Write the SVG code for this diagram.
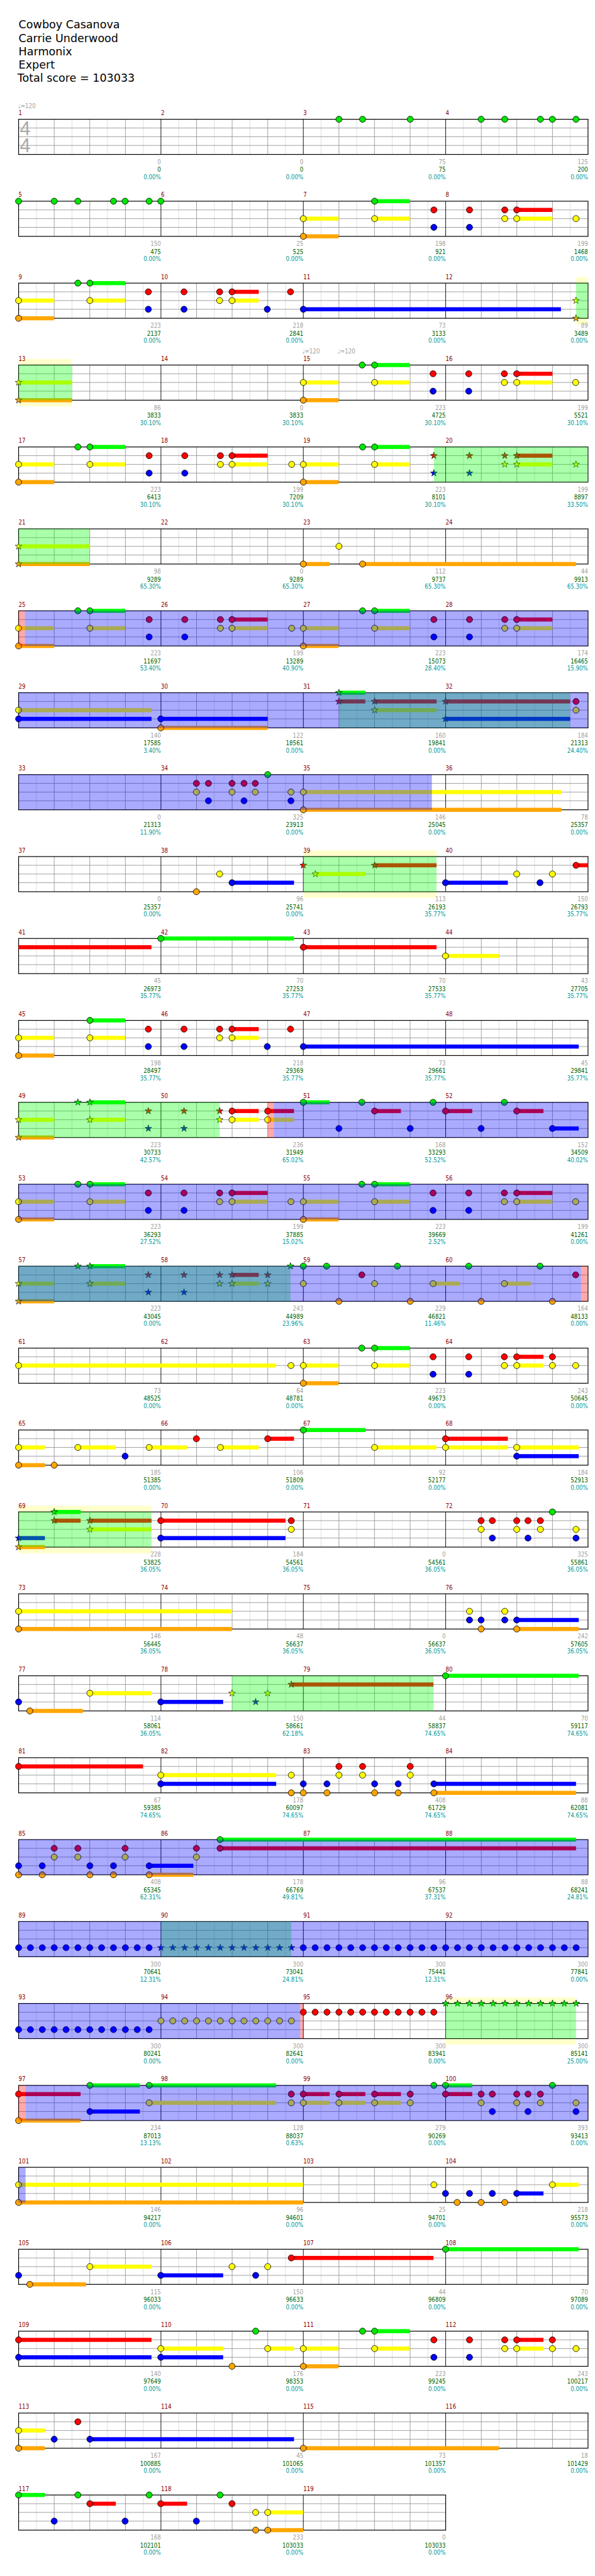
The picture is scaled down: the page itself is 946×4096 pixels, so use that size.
<svg xmlns="http://www.w3.org/2000/svg" width="946" height="4096" viewBox="0 0 946 4096">
<style>
.t{font-family:"DejaVu Sans",Verdana,sans-serif;font-size:19px;fill:#000}
.s{font-family:"DejaVu Sans Condensed","DejaVu Sans",sans-serif;font-stretch:condensed;font-size:10.5px}
.m{fill:#8b0000}.a{fill:#a0a0a0;text-anchor:end}.c{fill:#006400;text-anchor:end}.p{fill:#009999;text-anchor:end}.k{fill:#a0a0a0}
.ts{font-family:"Liberation Sans",Arial,sans-serif;font-size:33px;fill:#aaa}
.n circle{stroke:#000;stroke-width:.9}.n use{stroke:#000;stroke-width:.7}
.g{fill:#00e600}.gb{fill:#00ff00}.r{fill:#f00}.y{fill:#ff0}.b{fill:#00f}.o{fill:#ffa600}
.sp{fill:#0f0;fill-opacity:.333}.od{fill:#00f;fill-opacity:.333}.pk{fill:#f00;fill-opacity:.333}.pl{fill:#ffc}
</style>
<defs>
<path id="S" d="M0-6.2L1.39-1.92L5.9-1.92L2.25.73L3.64 5.02L0 2.37L-3.64 5.02L-2.25.73L-5.9-1.92L-1.39-1.92Z"/>
<g id="st4">
<rect x="32" width="980" height="60.5" fill="#fff"/>
<path stroke="#dcdcdc" d="M62.6 0V60.5M123.9 0V60.5M185.1 0V60.5M246.4 0V60.5M307.6 0V60.5M368.9 0V60.5M430.1 0V60.5M491.4 0V60.5M552.6 0V60.5M613.9 0V60.5M675.1 0V60.5M736.4 0V60.5M797.6 0V60.5M858.9 0V60.5M920.1 0V60.5M981.4 0V60.5"/>
<path stroke="#999" d="M93.3 0V60.5M154.5 0V60.5M215.8 0V60.5M338.3 0V60.5M399.5 0V60.5M460.8 0V60.5M583.3 0V60.5M644.5 0V60.5M705.8 0V60.5M828.3 0V60.5M889.5 0V60.5M950.8 0V60.5M32 15H1012M32 30H1012M32 45H1012"/>
<path stroke="#000" d="M277 0V60.5M522 0V60.5M767 0V60.5"/>
<rect x="32" width="980" height="60.5" fill="none" stroke="#000" stroke-width="1.3"/>
</g>
<g id="st3">
<rect x="32" width="735" height="60.5" fill="#fff"/>
<path stroke="#dcdcdc" d="M62.6 0V60.5M123.9 0V60.5M185.1 0V60.5M246.4 0V60.5M307.6 0V60.5M368.9 0V60.5M430.1 0V60.5M491.4 0V60.5M552.6 0V60.5M613.9 0V60.5M675.1 0V60.5M736.4 0V60.5"/>
<path stroke="#999" d="M93.3 0V60.5M154.5 0V60.5M215.8 0V60.5M338.3 0V60.5M399.5 0V60.5M460.8 0V60.5M583.3 0V60.5M644.5 0V60.5M705.8 0V60.5M32 15H767M32 30H767M32 45H767"/>
<path stroke="#000" d="M277 0V60.5M522 0V60.5"/>
<rect x="32" width="735" height="60.5" fill="none" stroke="#000" stroke-width="1.3"/>
</g>
</defs>
<rect width="946" height="4096" fill="#fff"/>
<g transform="scale(0.923828)">
<g id="title" class="t"><text x="32" y="49">Cowboy Casanova</text><text x="32" y="72">Carrie Underwood</text><text x="32" y="95">Harmonix</text><text x="32" y="118">Expert</text><text x="30" y="141">Total score = 103033</text></g>

<g id="m1-4" transform="translate(0,205.3)">
<use href="#st4"/>
<text class="s k" x="31" y="-19">♩=120</text>
<text class="ts" x="34" y="27">4</text><text class="ts" x="34" y="57">4</text>
<g class="s m" transform="translate(0,-7)"><text x="32">1</text><text x="277">2</text><text x="522">3</text><text x="767">4</text></g>
<g class="s a" transform="translate(0,77)"><text x="277">0</text><text x="522">0</text><text x="767">75</text><text x="1012">125</text></g>
<g class="s c" transform="translate(0,90.5)"><text x="277">0</text><text x="522">0</text><text x="767">75</text><text x="1012">200</text></g>
<g class="s p" transform="translate(0,103)"><text x="277">0.00%</text><text x="522">0.00%</text><text x="767">0.00%</text><text x="1012">0.00%</text></g>
<g class="n g"><circle cx="583.3" r="5.3"/><circle cx="624" r="5.3"/><circle cx="706" r="5.3"/><circle cx="828" r="5.3"/><circle cx="868.7" r="5.3"/><circle cx="930" r="5.3"/><circle cx="950.7" r="5.3"/><circle cx="991.3" r="5.3"/></g>
</g>

<g id="m5-8" transform="translate(0,346.3)">
<use href="#st4"/>
<g class="s m" transform="translate(0,-7)"><text x="32">5</text><text x="277">6</text><text x="522">7</text><text x="767">8</text></g>
<g class="s a" transform="translate(0,77)"><text x="277">150</text><text x="522">25</text><text x="767">198</text><text x="1012">199</text></g>
<g class="s c" transform="translate(0,90.5)"><text x="277">475</text><text x="522">525</text><text x="767">921</text><text x="1012">1468</text></g>
<g class="s p" transform="translate(0,103)"><text x="277">0.00%</text><text x="522">0.00%</text><text x="767">0.00%</text><text x="1012">0.00%</text></g>
<g class="n g"><rect class="gb" x="644.7" y="-3.5" width="60.6" height="7"/><circle cx="32" r="5.3"/><circle cx="93.3" r="5.3"/><circle cx="134" r="5.3"/><circle cx="195.3" r="5.3"/><circle cx="215.3" r="5.3"/><circle cx="256.7" r="5.3"/><circle cx="276.7" r="5.3"/><circle cx="644.7" r="5.3"/></g>
<g class="n r" transform="translate(0,15)"><rect x="889.3" y="-3.5" width="61.4" height="7"/><circle cx="746.7" r="5.3"/><circle cx="808" r="5.3"/><circle cx="868.7" r="5.3"/><circle cx="889.3" r="5.3"/></g>
<g class="n y" transform="translate(0,30)"><rect x="522" y="-3.5" width="60.7" height="7"/><rect x="644.7" y="-3.5" width="60.6" height="7"/><rect x="889.3" y="-3.5" width="61.4" height="7"/><circle cx="522" r="5.3"/><circle cx="644.7" r="5.3"/><circle cx="868.7" r="5.3"/><circle cx="889.3" r="5.3"/><circle cx="991.3" r="5.3"/></g>
<g class="n b" transform="translate(0,45)"><circle cx="746.7" r="5.3"/><circle cx="808" r="5.3"/></g>
<g class="n o" transform="translate(0,60.5)"><rect x="522" y="-3.5" width="60.7" height="7"/><circle cx="522" r="5.3"/></g>
</g>

<g id="m9-12" transform="translate(0,487.3)">
<rect class="pl" x="991.3" y="-10.6" width="20.7" height="81.7"/>
<use href="#st4"/>
<g class="s m" transform="translate(0,-7)"><text x="32">9</text><text x="277">10</text><text x="522">11</text><text x="767">12</text></g>
<g class="s a" transform="translate(0,77)"><text x="277">223</text><text x="522">218</text><text x="767">73</text><text x="1012">89</text></g>
<g class="s c" transform="translate(0,90.5)"><text x="277">2137</text><text x="522">2841</text><text x="767">3133</text><text x="1012">3489</text></g>
<g class="s p" transform="translate(0,103)"><text x="277">0.00%</text><text x="522">0.00%</text><text x="767">0.00%</text><text x="1012">0.00%</text></g>
<g class="n g"><rect class="gb" x="154.7" y="-3.5" width="60.6" height="7"/><circle cx="134" r="5.3"/><circle cx="154.7" r="5.3"/></g>
<g class="n r" transform="translate(0,15)"><rect x="399.3" y="-3.5" width="46" height="7"/><circle cx="255.3" r="5.3"/><circle cx="316.7" r="5.3"/><circle cx="378" r="5.3"/><circle cx="399.3" r="5.3"/><circle cx="500" r="5.3"/></g>
<g class="n y" transform="translate(0,30)"><rect x="32" y="-3.5" width="61.3" height="7"/><rect x="154.7" y="-3.5" width="60.6" height="7"/><rect x="399.3" y="-3.5" width="46" height="7"/><circle cx="32" r="5.3"/><circle cx="154.7" r="5.3"/><circle cx="378" r="5.3"/><circle cx="399.3" r="5.3"/><use href="#S" x="991.3"/></g>
<g class="n b" transform="translate(0,45)"><rect x="522" y="-3.5" width="443.3" height="7"/><circle cx="255.3" r="5.3"/><circle cx="316.7" r="5.3"/><circle cx="460" r="5.3"/><circle cx="522" r="5.3"/></g>
<g class="n o" transform="translate(0,60.5)"><rect x="32" y="-3.5" width="61.3" height="7"/><circle cx="32" r="5.3"/><use href="#S" x="991.3"/></g>
<rect class="sp" x="991.3" width="20.7" height="60.5"/>
</g>

<g id="m13-16" transform="translate(0,628.3)">
<rect class="pl" x="32" y="-10.6" width="92" height="81.7"/>
<use href="#st4"/>
<text class="s k" x="520" y="-20">♩=120</text><text class="s k" x="581" y="-20">♩=120</text>
<g class="s m" transform="translate(0,-7)"><text x="32">13</text><text x="277">14</text><text x="522">15</text><text x="767">16</text></g>
<g class="s a" transform="translate(0,77)"><text x="277">86</text><text x="522">0</text><text x="767">223</text><text x="1012">199</text></g>
<g class="s c" transform="translate(0,90.5)"><text x="277">3833</text><text x="522">3833</text><text x="767">4725</text><text x="1012">5521</text></g>
<g class="s p" transform="translate(0,103)"><text x="277">30.10%</text><text x="522">30.10%</text><text x="767">30.10%</text><text x="1012">30.10%</text></g>
<g class="n g"><rect class="gb" x="644.7" y="-3.5" width="60.6" height="7"/><circle cx="623.3" r="5.3"/><circle cx="644.7" r="5.3"/></g>
<g class="n r" transform="translate(0,15)"><rect x="889.3" y="-3.5" width="61.4" height="7"/><circle cx="745.3" r="5.3"/><circle cx="806.7" r="5.3"/><circle cx="868" r="5.3"/><circle cx="889.3" r="5.3"/></g>
<g class="n y" transform="translate(0,30)"><rect x="32" y="-3.5" width="92" height="7"/><rect x="522" y="-3.5" width="60.7" height="7"/><rect x="644.7" y="-3.5" width="60.6" height="7"/><rect x="889.3" y="-3.5" width="61.4" height="7"/><use href="#S" x="32"/><circle cx="522" r="5.3"/><circle cx="644.7" r="5.3"/><circle cx="868" r="5.3"/><circle cx="889.3" r="5.3"/><circle cx="990.7" r="5.3"/></g>
<g class="n b" transform="translate(0,45)"><circle cx="745.3" r="5.3"/><circle cx="806.7" r="5.3"/></g>
<g class="n o" transform="translate(0,60.5)"><rect x="32" y="-3.5" width="92" height="7"/><rect x="522" y="-3.5" width="60.7" height="7"/><use href="#S" x="32"/><circle cx="522" r="5.3"/></g>
<rect class="sp" x="32" width="92" height="60.5"/>
</g>

<g id="m17-20" transform="translate(0,769.3)">
<use href="#st4"/>
<g class="s m" transform="translate(0,-7)"><text x="32">17</text><text x="277">18</text><text x="522">19</text><text x="767">20</text></g>
<g class="s a" transform="translate(0,77)"><text x="277">223</text><text x="522">199</text><text x="767">223</text><text x="1012">199</text></g>
<g class="s c" transform="translate(0,90.5)"><text x="277">6413</text><text x="522">7209</text><text x="767">8101</text><text x="1012">8897</text></g>
<g class="s p" transform="translate(0,103)"><text x="277">30.10%</text><text x="522">30.10%</text><text x="767">30.10%</text><text x="1012">33.50%</text></g>
<g class="n g"><rect class="gb" x="154.7" y="-3.5" width="60.6" height="7"/><rect class="gb" x="644.7" y="-3.5" width="60.6" height="7"/><circle cx="134" r="5.3"/><circle cx="154.7" r="5.3"/><circle cx="624" r="5.3"/><circle cx="644.7" r="5.3"/></g>
<g class="n r" transform="translate(0,15)"><rect x="399.3" y="-3.5" width="61.4" height="7"/><rect x="889.3" y="-3.5" width="61.4" height="7"/><circle cx="256.7" r="5.3"/><circle cx="318" r="5.3"/><circle cx="379.3" r="5.3"/><circle cx="399.3" r="5.3"/><use href="#S" x="746.7"/><use href="#S" x="808"/><use href="#S" x="868.7"/><use href="#S" x="889.3"/></g>
<g class="n y" transform="translate(0,30)"><rect x="32" y="-3.5" width="61.3" height="7"/><rect x="154.7" y="-3.5" width="60.6" height="7"/><rect x="399.3" y="-3.5" width="61.4" height="7"/><rect x="522" y="-3.5" width="60.7" height="7"/><rect x="644.7" y="-3.5" width="60.6" height="7"/><rect x="889.3" y="-3.5" width="61.4" height="7"/><circle cx="32" r="5.3"/><circle cx="154.7" r="5.3"/><circle cx="379.3" r="5.3"/><circle cx="399.3" r="5.3"/><circle cx="502" r="5.3"/><circle cx="522" r="5.3"/><circle cx="644.7" r="5.3"/><use href="#S" x="868.7"/><use href="#S" x="889.3"/><use href="#S" x="991.3"/></g>
<g class="n b" transform="translate(0,45)"><circle cx="256.7" r="5.3"/><circle cx="318" r="5.3"/><use href="#S" x="746.7"/><use href="#S" x="808"/></g>
<g class="n o" transform="translate(0,60.5)"><rect x="32" y="-3.5" width="61.3" height="7"/><rect x="522" y="-3.5" width="60.7" height="7"/><circle cx="32" r="5.3"/><circle cx="522" r="5.3"/></g>
<rect class="sp" x="746.7" width="265.3" height="60.5"/>
</g>

<g id="m21-24" transform="translate(0,910.3)">
<use href="#st4"/>
<g class="s m" transform="translate(0,-7)"><text x="32">21</text><text x="277">22</text><text x="522">23</text><text x="767">24</text></g>
<g class="s a" transform="translate(0,77)"><text x="277">98</text><text x="522">0</text><text x="767">112</text><text x="1012">44</text></g>
<g class="s c" transform="translate(0,90.5)"><text x="277">9289</text><text x="522">9289</text><text x="767">9737</text><text x="1012">9913</text></g>
<g class="s p" transform="translate(0,103)"><text x="277">65.30%</text><text x="522">65.30%</text><text x="767">65.30%</text><text x="1012">65.30%</text></g>
<g class="n y" transform="translate(0,30)"><rect x="32" y="-3.5" width="122.7" height="7"/><use href="#S" x="32"/><circle cx="583.3" r="5.3"/></g>
<g class="n o" transform="translate(0,60.5)"><rect x="32" y="-3.5" width="122.7" height="7"/><rect x="522" y="-3.5" width="45.3" height="7"/><rect x="624" y="-3.5" width="367.3" height="7"/><use href="#S" x="32"/><circle cx="522" r="5.3"/><circle cx="624" r="5.3"/></g>
<rect class="sp" x="32" width="122.7" height="60.5"/>
</g>

<g id="m25-28" transform="translate(0,1051.3)">
<use href="#st4"/>
<g class="s m" transform="translate(0,-7)"><text x="32">25</text><text x="277">26</text><text x="522">27</text><text x="767">28</text></g>
<g class="s a" transform="translate(0,77)"><text x="277">223</text><text x="522">199</text><text x="767">223</text><text x="1012">174</text></g>
<g class="s c" transform="translate(0,90.5)"><text x="277">11697</text><text x="522">13289</text><text x="767">15073</text><text x="1012">16465</text></g>
<g class="s p" transform="translate(0,103)"><text x="277">53.40%</text><text x="522">40.90%</text><text x="767">28.40%</text><text x="1012">15.90%</text></g>
<g class="n g"><rect class="gb" x="154.7" y="-3.5" width="60.6" height="7"/><rect class="gb" x="644.7" y="-3.5" width="60.6" height="7"/><circle cx="134" r="5.3"/><circle cx="154.7" r="5.3"/><circle cx="624" r="5.3"/><circle cx="644.7" r="5.3"/></g>
<g class="n r" transform="translate(0,15)"><rect x="399.3" y="-3.5" width="61.4" height="7"/><rect x="889.3" y="-3.5" width="61.4" height="7"/><circle cx="256.7" r="5.3"/><circle cx="318" r="5.3"/><circle cx="379.3" r="5.3"/><circle cx="399.3" r="5.3"/><circle cx="746.7" r="5.3"/><circle cx="808" r="5.3"/><circle cx="868.7" r="5.3"/><circle cx="889.3" r="5.3"/></g>
<g class="n y" transform="translate(0,30)"><rect x="32" y="-3.5" width="61.3" height="7"/><rect x="154.7" y="-3.5" width="60.6" height="7"/><rect x="399.3" y="-3.5" width="61.4" height="7"/><rect x="522" y="-3.5" width="60.7" height="7"/><rect x="644.7" y="-3.5" width="60.6" height="7"/><rect x="889.3" y="-3.5" width="61.4" height="7"/><circle cx="32" r="5.3"/><circle cx="154.7" r="5.3"/><circle cx="379.3" r="5.3"/><circle cx="399.3" r="5.3"/><circle cx="502" r="5.3"/><circle cx="522" r="5.3"/><circle cx="644.7" r="5.3"/><circle cx="868.7" r="5.3"/><circle cx="889.3" r="5.3"/></g>
<g class="n b" transform="translate(0,45)"><circle cx="256.7" r="5.3"/><circle cx="318" r="5.3"/><circle cx="746.7" r="5.3"/><circle cx="808" r="5.3"/></g>
<g class="n o" transform="translate(0,60.5)"><rect x="32" y="-3.5" width="61.3" height="7"/><rect x="522" y="-3.5" width="60.7" height="7"/><circle cx="32" r="5.3"/><circle cx="522" r="5.3"/></g>
<rect class="pk" x="32" width="10.7" height="60.5"/><rect class="od" x="42.7" width="969.3" height="60.5"/>
</g>

<g id="m29-32" transform="translate(0,1192.3)">
<use href="#st4"/>
<g class="s m" transform="translate(0,-7)"><text x="32">29</text><text x="277">30</text><text x="522">31</text><text x="767">32</text></g>
<g class="s a" transform="translate(0,77)"><text x="277">140</text><text x="522">122</text><text x="767">160</text><text x="1012">184</text></g>
<g class="s c" transform="translate(0,90.5)"><text x="277">17585</text><text x="522">18561</text><text x="767">19841</text><text x="1012">21313</text></g>
<g class="s p" transform="translate(0,103)"><text x="277">3.40%</text><text x="522">0.00%</text><text x="767">0.00%</text><text x="1012">24.40%</text></g>
<g class="n g"><rect class="gb" x="583.3" y="-3.5" width="45.4" height="7"/><use href="#S" x="583.3"/></g>
<g class="n r" transform="translate(0,15)"><rect x="583.3" y="-3.5" width="45.4" height="7"/><rect x="644.7" y="-3.5" width="106.6" height="7"/><rect x="766.7" y="-3.5" width="214.6" height="7"/><use href="#S" x="583.3"/><use href="#S" x="644.7"/><use href="#S" x="766.7"/><circle cx="991.3" r="5.3"/></g>
<g class="n y" transform="translate(0,30)"><rect x="32" y="-3.5" width="228.7" height="7"/><rect x="644.7" y="-3.5" width="106.6" height="7"/><circle cx="32" r="5.3"/><use href="#S" x="644.7"/><circle cx="991.3" r="5.3"/></g>
<g class="n b" transform="translate(0,45)"><rect x="32" y="-3.5" width="228.7" height="7"/><rect x="276.7" y="-3.5" width="184" height="7"/><rect x="766.7" y="-3.5" width="214.6" height="7"/><circle cx="32" r="5.3"/><circle cx="276.7" r="5.3"/><use href="#S" x="766.7"/></g>
<g class="n o" transform="translate(0,60.5)"><rect x="276.7" y="-3.5" width="184" height="7"/><circle cx="276.7" r="5.3"/></g>
<rect class="sp" x="583.3" width="398" height="60.5"/><rect class="od" x="32" width="980" height="60.5"/>
</g>

<g id="m33-36" transform="translate(0,1333.3)">
<use href="#st4"/>
<g class="s m" transform="translate(0,-7)"><text x="32">33</text><text x="277">34</text><text x="522">35</text><text x="767">36</text></g>
<g class="s a" transform="translate(0,77)"><text x="277">0</text><text x="522">325</text><text x="767">146</text><text x="1012">78</text></g>
<g class="s c" transform="translate(0,90.5)"><text x="277">21313</text><text x="522">23913</text><text x="767">25045</text><text x="1012">25357</text></g>
<g class="s p" transform="translate(0,103)"><text x="277">11.90%</text><text x="522">0.00%</text><text x="767">0.00%</text><text x="1012">0.00%</text></g>
<g class="n g"><circle cx="460.7" r="5.3"/></g>
<g class="n r" transform="translate(0,15)"><circle cx="338" r="5.3"/><circle cx="358.7" r="5.3"/><circle cx="399.3" r="5.3"/><circle cx="420" r="5.3"/><circle cx="439.3" r="5.3"/></g>
<g class="n y" transform="translate(0,30)"><rect x="522" y="-3.5" width="444" height="7"/><circle cx="338" r="5.3"/><circle cx="399.3" r="5.3"/><circle cx="439.3" r="5.3"/><circle cx="500.7" r="5.3"/><circle cx="522" r="5.3"/></g>
<g class="n b" transform="translate(0,45)"><circle cx="358.7" r="5.3"/><circle cx="420" r="5.3"/><circle cx="500.7" r="5.3"/></g>
<g class="n o" transform="translate(0,60.5)"><rect x="522" y="-3.5" width="444" height="7"/><circle cx="522" r="5.3"/></g>
<rect class="od" x="32" width="711.3" height="60.5"/>
</g>

<g id="m37-40" transform="translate(0,1474.3)">
<rect class="pl" x="522" y="-10.6" width="229.3" height="81.7"/>
<use href="#st4"/>
<g class="s m" transform="translate(0,-7)"><text x="32">37</text><text x="277">38</text><text x="522">39</text><text x="767">40</text></g>
<g class="s a" transform="translate(0,77)"><text x="277">0</text><text x="522">96</text><text x="767">113</text><text x="1012">150</text></g>
<g class="s c" transform="translate(0,90.5)"><text x="277">25357</text><text x="522">25741</text><text x="767">26193</text><text x="1012">26793</text></g>
<g class="s p" transform="translate(0,103)"><text x="277">0.00%</text><text x="522">0.00%</text><text x="767">35.77%</text><text x="1012">35.77%</text></g>
<g class="n r" transform="translate(0,15)"><rect x="644.7" y="-3.5" width="106.6" height="7"/><rect x="991.3" y="-3.5" width="20.7" height="7"/><use href="#S" x="522"/><use href="#S" x="644.7"/><circle cx="991.3" r="5.3"/></g>
<g class="n y" transform="translate(0,30)"><rect x="542.7" y="-3.5" width="86" height="7"/><circle cx="378" r="5.3"/><use href="#S" x="542.7"/><circle cx="889.3" r="5.3"/><circle cx="950.7" r="5.3"/></g>
<g class="n b" transform="translate(0,45)"><rect x="399.3" y="-3.5" width="106.7" height="7"/><rect x="766.7" y="-3.5" width="107.3" height="7"/><circle cx="399.3" r="5.3"/><circle cx="766.7" r="5.3"/><circle cx="929.3" r="5.3"/></g>
<g class="n o" transform="translate(0,60.5)"><circle cx="338" r="5.3"/></g>
<rect class="sp" x="522" width="229.3" height="60.5"/>
</g>

<g id="m41-44" transform="translate(0,1615.3)">
<use href="#st4"/>
<g class="s m" transform="translate(0,-7)"><text x="32">41</text><text x="277">42</text><text x="522">43</text><text x="767">44</text></g>
<g class="s a" transform="translate(0,77)"><text x="277">45</text><text x="522">70</text><text x="767">70</text><text x="1012">43</text></g>
<g class="s c" transform="translate(0,90.5)"><text x="277">26973</text><text x="522">27253</text><text x="767">27533</text><text x="1012">27705</text></g>
<g class="s p" transform="translate(0,103)"><text x="277">35.77%</text><text x="522">35.77%</text><text x="767">35.77%</text><text x="1012">35.77%</text></g>
<g class="n g"><rect class="gb" x="276.7" y="-3.5" width="229.3" height="7"/><circle cx="276.7" r="5.3"/></g>
<g class="n r" transform="translate(0,15)"><rect x="32" y="-3.5" width="228.7" height="7"/><rect x="522" y="-3.5" width="229.3" height="7"/><circle cx="522" r="5.3"/></g>
<g class="n y" transform="translate(0,30)"><rect x="766.7" y="-3.5" width="92" height="7"/><circle cx="766.7" r="5.3"/></g>
</g>

<g id="m45-48" transform="translate(0,1756.3)">
<use href="#st4"/>
<g class="s m" transform="translate(0,-7)"><text x="32">45</text><text x="277">46</text><text x="522">47</text><text x="767">48</text></g>
<g class="s a" transform="translate(0,77)"><text x="277">198</text><text x="522">218</text><text x="767">73</text><text x="1012">45</text></g>
<g class="s c" transform="translate(0,90.5)"><text x="277">28497</text><text x="522">29369</text><text x="767">29661</text><text x="1012">29841</text></g>
<g class="s p" transform="translate(0,103)"><text x="277">35.77%</text><text x="522">35.77%</text><text x="767">35.77%</text><text x="1012">35.77%</text></g>
<g class="n g"><rect class="gb" x="154.7" y="-3.5" width="60.6" height="7"/><circle cx="154.7" r="5.3"/></g>
<g class="n r" transform="translate(0,15)"><rect x="399.3" y="-3.5" width="46" height="7"/><circle cx="255.3" r="5.3"/><circle cx="316.7" r="5.3"/><circle cx="378" r="5.3"/><circle cx="399.3" r="5.3"/><circle cx="500" r="5.3"/></g>
<g class="n y" transform="translate(0,30)"><rect x="32" y="-3.5" width="61.3" height="7"/><rect x="154.7" y="-3.5" width="60.6" height="7"/><rect x="399.3" y="-3.5" width="46" height="7"/><circle cx="32" r="5.3"/><circle cx="154.7" r="5.3"/><circle cx="378" r="5.3"/><circle cx="399.3" r="5.3"/></g>
<g class="n b" transform="translate(0,45)"><rect x="522" y="-3.5" width="474" height="7"/><circle cx="255.3" r="5.3"/><circle cx="316.7" r="5.3"/><circle cx="460" r="5.3"/><circle cx="522" r="5.3"/></g>
<g class="n o" transform="translate(0,60.5)"><rect x="32" y="-3.5" width="61.3" height="7"/><circle cx="32" r="5.3"/></g>
</g>

<g id="m49-52" transform="translate(0,1897.3)">
<use href="#st4"/>
<g class="s m" transform="translate(0,-7)"><text x="32">49</text><text x="277">50</text><text x="522">51</text><text x="767">52</text></g>
<g class="s a" transform="translate(0,77)"><text x="277">223</text><text x="522">236</text><text x="767">168</text><text x="1012">152</text></g>
<g class="s c" transform="translate(0,90.5)"><text x="277">30733</text><text x="522">31949</text><text x="767">33293</text><text x="1012">34509</text></g>
<g class="s p" transform="translate(0,103)"><text x="277">42.57%</text><text x="522">65.02%</text><text x="767">52.52%</text><text x="1012">40.02%</text></g>
<g class="n g"><rect class="gb" x="154.7" y="-3.5" width="60.6" height="7"/><rect class="gb" x="522" y="-3.5" width="45.3" height="7"/><use href="#S" x="134"/><use href="#S" x="154.7"/><circle cx="522" r="5.3"/><circle cx="622.7" r="5.3"/><circle cx="745.3" r="5.3"/><circle cx="868" r="5.3"/></g>
<g class="n r" transform="translate(0,15)"><rect x="399.3" y="-3.5" width="46" height="7"/><rect x="460.7" y="-3.5" width="45.3" height="7"/><rect x="644.7" y="-3.5" width="45.3" height="7"/><rect x="766.7" y="-3.5" width="46" height="7"/><rect x="889.3" y="-3.5" width="46" height="7"/><use href="#S" x="255.3"/><use href="#S" x="316.7"/><use href="#S" x="378"/><circle cx="399.3" r="5.3"/><circle cx="460.7" r="5.3"/><circle cx="644.7" r="5.3"/><circle cx="766.7" r="5.3"/><circle cx="889.3" r="5.3"/></g>
<g class="n y" transform="translate(0,30)"><rect x="32" y="-3.5" width="61.3" height="7"/><rect x="154.7" y="-3.5" width="60.6" height="7"/><rect x="399.3" y="-3.5" width="46" height="7"/><rect x="460.7" y="-3.5" width="45.3" height="7"/><use href="#S" x="32"/><use href="#S" x="154.7"/><use href="#S" x="378"/><circle cx="399.3" r="5.3"/><circle cx="460.7" r="5.3"/></g>
<g class="n b" transform="translate(0,45)"><rect x="950.7" y="-3.5" width="45.3" height="7"/><use href="#S" x="255.3"/><use href="#S" x="316.7"/><circle cx="583.3" r="5.3"/><circle cx="706" r="5.3"/><circle cx="828" r="5.3"/><circle cx="950.7" r="5.3"/></g>
<g class="n o" transform="translate(0,60.5)"><rect x="32" y="-3.5" width="61.3" height="7"/><use href="#S" x="32"/></g>
<rect class="sp" x="32" width="346" height="60.5"/><rect class="pk" x="460.7" width="10.6" height="60.5"/><rect class="od" x="471.3" width="540.7" height="60.5"/>
</g>

<g id="m53-56" transform="translate(0,2038.3)">
<use href="#st4"/>
<g class="s m" transform="translate(0,-7)"><text x="32">53</text><text x="277">54</text><text x="522">55</text><text x="767">56</text></g>
<g class="s a" transform="translate(0,77)"><text x="277">223</text><text x="522">199</text><text x="767">223</text><text x="1012">199</text></g>
<g class="s c" transform="translate(0,90.5)"><text x="277">36293</text><text x="522">37885</text><text x="767">39669</text><text x="1012">41261</text></g>
<g class="s p" transform="translate(0,103)"><text x="277">27.52%</text><text x="522">15.02%</text><text x="767">2.52%</text><text x="1012">0.00%</text></g>
<g class="n g"><rect class="gb" x="154.7" y="-3.5" width="60.6" height="7"/><rect class="gb" x="644.7" y="-3.5" width="60.6" height="7"/><circle cx="134" r="5.3"/><circle cx="154.7" r="5.3"/><circle cx="622.7" r="5.3"/><circle cx="644.7" r="5.3"/></g>
<g class="n r" transform="translate(0,15)"><rect x="399.3" y="-3.5" width="61.4" height="7"/><rect x="889.3" y="-3.5" width="61.4" height="7"/><circle cx="255.3" r="5.3"/><circle cx="316.7" r="5.3"/><circle cx="378" r="5.3"/><circle cx="399.3" r="5.3"/><circle cx="745.3" r="5.3"/><circle cx="806.7" r="5.3"/><circle cx="868" r="5.3"/><circle cx="889.3" r="5.3"/></g>
<g class="n y" transform="translate(0,30)"><rect x="32" y="-3.5" width="61.3" height="7"/><rect x="154.7" y="-3.5" width="60.6" height="7"/><rect x="399.3" y="-3.5" width="61.4" height="7"/><rect x="522" y="-3.5" width="60.7" height="7"/><rect x="644.7" y="-3.5" width="60.6" height="7"/><rect x="889.3" y="-3.5" width="61.4" height="7"/><circle cx="32" r="5.3"/><circle cx="154.7" r="5.3"/><circle cx="378" r="5.3"/><circle cx="399.3" r="5.3"/><circle cx="500.7" r="5.3"/><circle cx="522" r="5.3"/><circle cx="644.7" r="5.3"/><circle cx="868" r="5.3"/><circle cx="889.3" r="5.3"/><circle cx="990.7" r="5.3"/></g>
<g class="n b" transform="translate(0,45)"><circle cx="255.3" r="5.3"/><circle cx="316.7" r="5.3"/><circle cx="745.3" r="5.3"/><circle cx="806.7" r="5.3"/></g>
<g class="n o" transform="translate(0,60.5)"><rect x="32" y="-3.5" width="61.3" height="7"/><rect x="522" y="-3.5" width="60.7" height="7"/><circle cx="32" r="5.3"/><circle cx="522" r="5.3"/></g>
<rect class="od" x="32" width="980" height="60.5"/>
</g>

<g id="m57-60" transform="translate(0,2179.3)">
<use href="#st4"/>
<g class="s m" transform="translate(0,-7)"><text x="32">57</text><text x="277">58</text><text x="522">59</text><text x="767">60</text></g>
<g class="s a" transform="translate(0,77)"><text x="277">223</text><text x="522">243</text><text x="767">229</text><text x="1012">164</text></g>
<g class="s c" transform="translate(0,90.5)"><text x="277">43045</text><text x="522">44989</text><text x="767">46821</text><text x="1012">48133</text></g>
<g class="s p" transform="translate(0,103)"><text x="277">0.00%</text><text x="522">23.96%</text><text x="767">11.46%</text><text x="1012">0.00%</text></g>
<g class="n g"><rect class="gb" x="154.7" y="-3.5" width="60.6" height="7"/><use href="#S" x="134"/><use href="#S" x="154.7"/><use href="#S" x="500"/><circle cx="522" r="5.3"/><circle cx="562" r="5.3"/><circle cx="684" r="5.3"/><circle cx="806.7" r="5.3"/><circle cx="929.3" r="5.3"/></g>
<g class="n r" transform="translate(0,15)"><rect x="399.3" y="-3.5" width="46" height="7"/><use href="#S" x="255.3"/><use href="#S" x="316.7"/><use href="#S" x="378"/><use href="#S" x="399.3"/><use href="#S" x="460.7"/><circle cx="622.7" r="5.3"/><circle cx="990.7" r="5.3"/></g>
<g class="n y" transform="translate(0,30)"><rect x="32" y="-3.5" width="61.3" height="7"/><rect x="154.7" y="-3.5" width="60.6" height="7"/><rect x="399.3" y="-3.5" width="46" height="7"/><rect x="745.3" y="-3.5" width="46" height="7"/><rect x="868" y="-3.5" width="45.3" height="7"/><use href="#S" x="32"/><use href="#S" x="154.7"/><use href="#S" x="378"/><use href="#S" x="399.3"/><use href="#S" x="460.7"/><circle cx="522" r="5.3"/><circle cx="644.7" r="5.3"/><circle cx="745.3" r="5.3"/><circle cx="868" r="5.3"/></g>
<g class="n b" transform="translate(0,45)"><use href="#S" x="255.3"/><use href="#S" x="316.7"/></g>
<g class="n o" transform="translate(0,60.5)"><rect x="32" y="-3.5" width="61.3" height="7"/><use href="#S" x="32"/><circle cx="583.3" r="5.3"/><circle cx="706" r="5.3"/><circle cx="828" r="5.3"/><circle cx="950.7" r="5.3"/></g>
<rect class="sp" x="32" width="468" height="60.5"/><rect class="od" x="32" width="968" height="60.5"/><rect class="pk" x="1000" width="12" height="60.5"/>
</g>

<g id="m61-64" transform="translate(0,2320.3)">
<use href="#st4"/>
<g class="s m" transform="translate(0,-7)"><text x="32">61</text><text x="277">62</text><text x="522">63</text><text x="767">64</text></g>
<g class="s a" transform="translate(0,77)"><text x="277">73</text><text x="522">64</text><text x="767">223</text><text x="1012">243</text></g>
<g class="s c" transform="translate(0,90.5)"><text x="277">48525</text><text x="522">48781</text><text x="767">49673</text><text x="1012">50645</text></g>
<g class="s p" transform="translate(0,103)"><text x="277">0.00%</text><text x="522">0.00%</text><text x="767">0.00%</text><text x="1012">0.00%</text></g>
<g class="n g"><rect class="gb" x="644.7" y="-3.5" width="60.6" height="7"/><circle cx="622.7" r="5.3"/><circle cx="644.7" r="5.3"/></g>
<g class="n r" transform="translate(0,15)"><rect x="889.3" y="-3.5" width="46" height="7"/><circle cx="745.3" r="5.3"/><circle cx="806.7" r="5.3"/><circle cx="868" r="5.3"/><circle cx="889.3" r="5.3"/><circle cx="950.7" r="5.3"/></g>
<g class="n y" transform="translate(0,30)"><rect x="32" y="-3.5" width="443.3" height="7"/><rect x="522" y="-3.5" width="60.7" height="7"/><rect x="644.7" y="-3.5" width="60.6" height="7"/><rect x="889.3" y="-3.5" width="46" height="7"/><circle cx="32" r="5.3"/><circle cx="500.7" r="5.3"/><circle cx="522" r="5.3"/><circle cx="644.7" r="5.3"/><circle cx="868" r="5.3"/><circle cx="889.3" r="5.3"/><circle cx="950.7" r="5.3"/><circle cx="990.7" r="5.3"/></g>
<g class="n b" transform="translate(0,45)"><circle cx="745.3" r="5.3"/><circle cx="806.7" r="5.3"/></g>
<g class="n o" transform="translate(0,60.5)"><rect x="522" y="-3.5" width="60.7" height="7"/><circle cx="522" r="5.3"/></g>
</g>

<g id="m65-68" transform="translate(0,2461.3)">
<use href="#st4"/>
<g class="s m" transform="translate(0,-7)"><text x="32">65</text><text x="277">66</text><text x="522">67</text><text x="767">68</text></g>
<g class="s a" transform="translate(0,77)"><text x="277">185</text><text x="522">106</text><text x="767">92</text><text x="1012">184</text></g>
<g class="s c" transform="translate(0,90.5)"><text x="277">51385</text><text x="522">51809</text><text x="767">52177</text><text x="1012">52913</text></g>
<g class="s p" transform="translate(0,103)"><text x="277">0.00%</text><text x="522">0.00%</text><text x="767">0.00%</text><text x="1012">0.00%</text></g>
<g class="n g"><rect class="gb" x="522" y="-3.5" width="106.7" height="7"/><circle cx="522" r="5.3"/></g>
<g class="n r" transform="translate(0,15)"><rect x="460.7" y="-3.5" width="45.3" height="7"/><rect x="766.7" y="-3.5" width="107.3" height="7"/><circle cx="338" r="5.3"/><circle cx="460.7" r="5.3"/><circle cx="766.7" r="5.3"/></g>
<g class="n y" transform="translate(0,30)"><rect x="32" y="-3.5" width="45.3" height="7"/><rect x="134" y="-3.5" width="65.3" height="7"/><rect x="256.7" y="-3.5" width="65.3" height="7"/><rect x="379.3" y="-3.5" width="66" height="7"/><rect x="644.7" y="-3.5" width="106.6" height="7"/><rect x="766.7" y="-3.5" width="107.3" height="7"/><rect x="889.3" y="-3.5" width="106.7" height="7"/><circle cx="32" r="5.3"/><circle cx="134" r="5.3"/><circle cx="256.7" r="5.3"/><circle cx="379.3" r="5.3"/><circle cx="644.7" r="5.3"/><circle cx="766.7" r="5.3"/><circle cx="889.3" r="5.3"/></g>
<g class="n b" transform="translate(0,45)"><rect x="889.3" y="-3.5" width="106.7" height="7"/><circle cx="215.3" r="5.3"/><circle cx="889.3" r="5.3"/></g>
<g class="n o" transform="translate(0,60.5)"><rect x="32" y="-3.5" width="45.3" height="7"/><circle cx="32" r="5.3"/><circle cx="93.3" r="5.3"/></g>
</g>

<g id="m69-72" transform="translate(0,2602.3)">
<rect class="pl" x="32" y="-10.6" width="228.7" height="81.7"/>
<use href="#st4"/>
<g class="s m" transform="translate(0,-7)"><text x="32">69</text><text x="277">70</text><text x="522">71</text><text x="767">72</text></g>
<g class="s a" transform="translate(0,77)"><text x="277">228</text><text x="522">184</text><text x="767">0</text><text x="1012">325</text></g>
<g class="s c" transform="translate(0,90.5)"><text x="277">53825</text><text x="522">54561</text><text x="767">54561</text><text x="1012">55861</text></g>
<g class="s p" transform="translate(0,103)"><text x="277">36.05%</text><text x="522">36.05%</text><text x="767">36.05%</text><text x="1012">36.05%</text></g>
<g class="n g"><rect class="gb" x="93.3" y="-3.5" width="45.4" height="7"/><use href="#S" x="93.3"/><circle cx="950.7" r="5.3"/></g>
<g class="n r" transform="translate(0,15)"><rect x="93.3" y="-3.5" width="45.4" height="7"/><rect x="154.7" y="-3.5" width="106" height="7"/><rect x="276.7" y="-3.5" width="214.6" height="7"/><use href="#S" x="93.3"/><use href="#S" x="154.7"/><circle cx="276.7" r="5.3"/><circle cx="501.3" r="5.3"/><circle cx="828" r="5.3"/><circle cx="847.3" r="5.3"/><circle cx="889.3" r="5.3"/><circle cx="908.7" r="5.3"/><circle cx="930" r="5.3"/></g>
<g class="n y" transform="translate(0,30)"><rect x="154.7" y="-3.5" width="106" height="7"/><use href="#S" x="154.7"/><circle cx="501.3" r="5.3"/><circle cx="828" r="5.3"/><circle cx="889.3" r="5.3"/><circle cx="930" r="5.3"/><circle cx="991.3" r="5.3"/></g>
<g class="n b" transform="translate(0,45)"><rect x="32" y="-3.5" width="45.3" height="7"/><rect x="276.7" y="-3.5" width="214.6" height="7"/><use href="#S" x="32"/><circle cx="276.7" r="5.3"/><circle cx="847.3" r="5.3"/><circle cx="908.7" r="5.3"/><circle cx="991.3" r="5.3"/></g>
<g class="n o" transform="translate(0,60.5)"><rect x="32" y="-3.5" width="45.3" height="7"/><use href="#S" x="32"/></g>
<rect class="sp" x="32" width="228.7" height="60.5"/>
</g>

<g id="m73-76" transform="translate(0,2743.3)">
<use href="#st4"/>
<g class="s m" transform="translate(0,-7)"><text x="32">73</text><text x="277">74</text><text x="522">75</text><text x="767">76</text></g>
<g class="s a" transform="translate(0,77)"><text x="277">146</text><text x="522">48</text><text x="767">0</text><text x="1012">242</text></g>
<g class="s c" transform="translate(0,90.5)"><text x="277">56445</text><text x="522">56637</text><text x="767">56637</text><text x="1012">57605</text></g>
<g class="s p" transform="translate(0,103)"><text x="277">36.05%</text><text x="522">36.05%</text><text x="767">36.05%</text><text x="1012">36.05%</text></g>
<g class="n y" transform="translate(0,30)"><rect x="32" y="-3.5" width="367.3" height="7"/><circle cx="32" r="5.3"/><circle cx="808" r="5.3"/><circle cx="868.7" r="5.3"/></g>
<g class="n b" transform="translate(0,45)"><rect x="889.3" y="-3.5" width="106.7" height="7"/><circle cx="808" r="5.3"/><circle cx="828" r="5.3"/><circle cx="868.7" r="5.3"/><circle cx="889.3" r="5.3"/></g>
<g class="n o" transform="translate(0,60.5)"><rect x="32" y="-3.5" width="367.3" height="7"/><rect x="889.3" y="-3.5" width="106.7" height="7"/><circle cx="32" r="5.3"/><circle cx="828" r="5.3"/><circle cx="889.3" r="5.3"/></g>
</g>

<g id="m77-80" transform="translate(0,2884.3)">
<use href="#st4"/>
<g class="s m" transform="translate(0,-7)"><text x="32">77</text><text x="277">78</text><text x="522">79</text><text x="767">80</text></g>
<g class="s a" transform="translate(0,77)"><text x="277">114</text><text x="522">150</text><text x="767">44</text><text x="1012">70</text></g>
<g class="s c" transform="translate(0,90.5)"><text x="277">58061</text><text x="522">58661</text><text x="767">58837</text><text x="1012">59117</text></g>
<g class="s p" transform="translate(0,103)"><text x="277">36.05%</text><text x="522">62.18%</text><text x="767">74.65%</text><text x="1012">74.65%</text></g>
<g class="n g"><rect class="gb" x="766.7" y="-3.5" width="229.3" height="7"/><circle cx="766.7" r="5.3"/></g>
<g class="n r" transform="translate(0,15)"><rect x="501.3" y="-3.5" width="244.7" height="7"/><use href="#S" x="501.3"/></g>
<g class="n y" transform="translate(0,30)"><rect x="154.7" y="-3.5" width="106" height="7"/><circle cx="154.7" r="5.3"/><use href="#S" x="399.3"/><use href="#S" x="460.7"/></g>
<g class="n b" transform="translate(0,45)"><rect x="276.7" y="-3.5" width="107.3" height="7"/><circle cx="32" r="5.3"/><circle cx="276.7" r="5.3"/><use href="#S" x="440"/></g>
<g class="n o" transform="translate(0,60.5)"><rect x="51.3" y="-3.5" width="91.4" height="7"/><circle cx="51.3" r="5.3"/></g>
<rect class="sp" x="399.3" width="346.7" height="60.5"/>
</g>

<g id="m81-84" transform="translate(0,3025.3)">
<use href="#st4"/>
<g class="s m" transform="translate(0,-7)"><text x="32">81</text><text x="277">82</text><text x="522">83</text><text x="767">84</text></g>
<g class="s a" transform="translate(0,77)"><text x="277">67</text><text x="522">178</text><text x="767">408</text><text x="1012">88</text></g>
<g class="s c" transform="translate(0,90.5)"><text x="277">59385</text><text x="522">60097</text><text x="767">61729</text><text x="1012">62081</text></g>
<g class="s p" transform="translate(0,103)"><text x="277">74.65%</text><text x="522">74.65%</text><text x="767">74.65%</text><text x="1012">74.65%</text></g>
<g class="n r" transform="translate(0,15)"><rect x="32" y="-3.5" width="214" height="7"/><circle cx="32" r="5.3"/><circle cx="583.3" r="5.3"/><circle cx="624" r="5.3"/><circle cx="706" r="5.3"/></g>
<g class="n y" transform="translate(0,30)"><rect x="276.7" y="-3.5" width="198.6" height="7"/><circle cx="276.7" r="5.3"/><circle cx="501.3" r="5.3"/><circle cx="583.3" r="5.3"/><circle cx="624" r="5.3"/><circle cx="706" r="5.3"/></g>
<g class="n b" transform="translate(0,45)"><rect x="276.7" y="-3.5" width="198.6" height="7"/><rect x="746.7" y="-3.5" width="244.6" height="7"/><circle cx="276.7" r="5.3"/><circle cx="522" r="5.3"/><circle cx="562.7" r="5.3"/><circle cx="644.7" r="5.3"/><circle cx="685.3" r="5.3"/><circle cx="746.7" r="5.3"/></g>
<g class="n o" transform="translate(0,60.5)"><rect x="746.7" y="-3.5" width="244.6" height="7"/><circle cx="501.3" r="5.3"/><circle cx="522" r="5.3"/><circle cx="562.7" r="5.3"/><circle cx="644.7" r="5.3"/><circle cx="685.3" r="5.3"/><circle cx="746.7" r="5.3"/></g>
</g>

<g id="m85-88" transform="translate(0,3166.3)">
<use href="#st4"/>
<g class="s m" transform="translate(0,-7)"><text x="32">85</text><text x="277">86</text><text x="522">87</text><text x="767">88</text></g>
<g class="s a" transform="translate(0,77)"><text x="277">408</text><text x="522">178</text><text x="767">96</text><text x="1012">88</text></g>
<g class="s c" transform="translate(0,90.5)"><text x="277">65345</text><text x="522">66769</text><text x="767">67537</text><text x="1012">68241</text></g>
<g class="s p" transform="translate(0,103)"><text x="277">62.31%</text><text x="522">49.81%</text><text x="767">37.31%</text><text x="1012">24.81%</text></g>
<g class="n g"><rect class="gb" x="378.7" y="-3.5" width="612.6" height="7"/><circle cx="378.7" r="5.3"/></g>
<g class="n r" transform="translate(0,15)"><rect x="378.7" y="-3.5" width="612.6" height="7"/><circle cx="93.3" r="5.3"/><circle cx="134" r="5.3"/><circle cx="215.3" r="5.3"/><circle cx="338" r="5.3"/><circle cx="378.7" r="5.3"/></g>
<g class="n y" transform="translate(0,30)"><circle cx="93.3" r="5.3"/><circle cx="134" r="5.3"/><circle cx="215.3" r="5.3"/><circle cx="338" r="5.3"/></g>
<g class="n b" transform="translate(0,45)"><rect x="256.7" y="-3.5" width="76" height="7"/><circle cx="32" r="5.3"/><circle cx="72.7" r="5.3"/><circle cx="154.7" r="5.3"/><circle cx="195.3" r="5.3"/><circle cx="256.7" r="5.3"/></g>
<g class="n o" transform="translate(0,60.5)"><rect x="256.7" y="-3.5" width="76" height="7"/><circle cx="32" r="5.3"/><circle cx="72.7" r="5.3"/><circle cx="154.7" r="5.3"/><circle cx="195.3" r="5.3"/><circle cx="256.7" r="5.3"/></g>
<rect class="od" x="32" width="980" height="60.5"/>
</g>

<g id="m89-92" transform="translate(0,3307.3)">
<use href="#st4"/>
<g class="s m" transform="translate(0,-7)"><text x="32">89</text><text x="277">90</text><text x="522">91</text><text x="767">92</text></g>
<g class="s a" transform="translate(0,77)"><text x="277">300</text><text x="522">300</text><text x="767">300</text><text x="1012">300</text></g>
<g class="s c" transform="translate(0,90.5)"><text x="277">70641</text><text x="522">73041</text><text x="767">75441</text><text x="1012">77841</text></g>
<g class="s p" transform="translate(0,103)"><text x="277">12.31%</text><text x="522">24.81%</text><text x="767">12.31%</text><text x="1012">0.00%</text></g>
<g class="n b" transform="translate(0,45)"><circle cx="32" r="5.3"/><circle cx="52.4" r="5.3"/><circle cx="72.8" r="5.3"/><circle cx="93.3" r="5.3"/><circle cx="113.7" r="5.3"/><circle cx="134.1" r="5.3"/><circle cx="154.5" r="5.3"/><circle cx="174.9" r="5.3"/><circle cx="195.3" r="5.3"/><circle cx="215.8" r="5.3"/><circle cx="236.2" r="5.3"/><circle cx="256.6" r="5.3"/><use href="#S" x="277"/><use href="#S" x="297.4"/><use href="#S" x="317.8"/><use href="#S" x="338.3"/><use href="#S" x="358.7"/><use href="#S" x="379.1"/><use href="#S" x="399.5"/><use href="#S" x="419.9"/><use href="#S" x="440.3"/><use href="#S" x="460.8"/><use href="#S" x="481.2"/><use href="#S" x="501.6"/><circle cx="522" r="5.3"/><circle cx="542.4" r="5.3"/><circle cx="562.8" r="5.3"/><circle cx="583.3" r="5.3"/><circle cx="603.7" r="5.3"/><circle cx="624.1" r="5.3"/><circle cx="644.5" r="5.3"/><circle cx="664.9" r="5.3"/><circle cx="685.3" r="5.3"/><circle cx="705.8" r="5.3"/><circle cx="726.2" r="5.3"/><circle cx="746.6" r="5.3"/><circle cx="767" r="5.3"/><circle cx="787.4" r="5.3"/><circle cx="807.8" r="5.3"/><circle cx="828.3" r="5.3"/><circle cx="848.7" r="5.3"/><circle cx="869.1" r="5.3"/><circle cx="889.5" r="5.3"/><circle cx="909.9" r="5.3"/><circle cx="930.3" r="5.3"/><circle cx="950.8" r="5.3"/><circle cx="971.2" r="5.3"/><circle cx="991.6" r="5.3"/></g>
<rect class="sp" x="276.7" width="224.6" height="60.5"/><rect class="od" x="32" width="980" height="60.5"/>
</g>

<g id="m93-96" transform="translate(0,3448.3)">
<rect class="pl" x="766.7" y="-10.6" width="224.6" height="81.7"/>
<use href="#st4"/>
<g class="s m" transform="translate(0,-7)"><text x="32">93</text><text x="277">94</text><text x="522">95</text><text x="767">96</text></g>
<g class="s a" transform="translate(0,77)"><text x="277">300</text><text x="522">300</text><text x="767">300</text><text x="1012">300</text></g>
<g class="s c" transform="translate(0,90.5)"><text x="277">80241</text><text x="522">82641</text><text x="767">83941</text><text x="1012">85141</text></g>
<g class="s p" transform="translate(0,103)"><text x="277">0.00%</text><text x="522">0.00%</text><text x="767">0.00%</text><text x="1012">25.00%</text></g>
<g class="n g"><use href="#S" x="767"/><use href="#S" x="787.4"/><use href="#S" x="807.8"/><use href="#S" x="828.3"/><use href="#S" x="848.7"/><use href="#S" x="869.1"/><use href="#S" x="889.5"/><use href="#S" x="909.9"/><use href="#S" x="930.3"/><use href="#S" x="950.8"/><use href="#S" x="971.2"/><use href="#S" x="991.6"/></g>
<g class="n r" transform="translate(0,15)"><circle cx="522" r="5.3"/><circle cx="542.4" r="5.3"/><circle cx="562.8" r="5.3"/><circle cx="583.3" r="5.3"/><circle cx="603.7" r="5.3"/><circle cx="624.1" r="5.3"/><circle cx="644.5" r="5.3"/><circle cx="664.9" r="5.3"/><circle cx="685.3" r="5.3"/><circle cx="705.8" r="5.3"/><circle cx="726.2" r="5.3"/><circle cx="746.6" r="5.3"/></g>
<g class="n y" transform="translate(0,30)"><circle cx="277" r="5.3"/><circle cx="297.4" r="5.3"/><circle cx="317.8" r="5.3"/><circle cx="338.3" r="5.3"/><circle cx="358.7" r="5.3"/><circle cx="379.1" r="5.3"/><circle cx="399.5" r="5.3"/><circle cx="419.9" r="5.3"/><circle cx="440.3" r="5.3"/><circle cx="460.8" r="5.3"/><circle cx="481.2" r="5.3"/><circle cx="501.6" r="5.3"/></g>
<g class="n b" transform="translate(0,45)"><circle cx="32" r="5.3"/><circle cx="52.4" r="5.3"/><circle cx="72.8" r="5.3"/><circle cx="93.3" r="5.3"/><circle cx="113.7" r="5.3"/><circle cx="134.1" r="5.3"/><circle cx="154.5" r="5.3"/><circle cx="174.9" r="5.3"/><circle cx="195.3" r="5.3"/><circle cx="215.8" r="5.3"/><circle cx="236.2" r="5.3"/><circle cx="256.6" r="5.3"/></g>
<rect class="sp" x="766.7" width="224.6" height="60.5"/><rect class="od" x="32" width="484.7" height="60.5"/><rect class="pk" x="516.7" width="5.3" height="60.5"/>
</g>

<g id="m97-100" transform="translate(0,3589.3)">
<use href="#st4"/>
<g class="s m" transform="translate(0,-7)"><text x="32">97</text><text x="277">98</text><text x="522">99</text><text x="767">100</text></g>
<g class="s a" transform="translate(0,77)"><text x="277">234</text><text x="522">128</text><text x="767">279</text><text x="1012">393</text></g>
<g class="s c" transform="translate(0,90.5)"><text x="277">87013</text><text x="522">88037</text><text x="767">90269</text><text x="1012">93413</text></g>
<g class="s p" transform="translate(0,103)"><text x="277">13.13%</text><text x="522">0.63%</text><text x="767">0.00%</text><text x="1012">0.00%</text></g>
<g class="n g"><rect class="gb" x="154.7" y="-3.5" width="86" height="7"/><rect class="gb" x="256.7" y="-3.5" width="218.6" height="7"/><rect class="gb" x="766.7" y="-3.5" width="46" height="7"/><circle cx="154.7" r="5.3"/><circle cx="256.7" r="5.3"/><circle cx="746.7" r="5.3"/><circle cx="766.7" r="5.3"/><circle cx="950.7" r="5.3"/></g>
<g class="n r" transform="translate(0,15)"><rect x="32" y="-3.5" width="106.7" height="7"/><rect x="522" y="-3.5" width="45.3" height="7"/><rect x="583.3" y="-3.5" width="45.4" height="7"/><rect x="644.7" y="-3.5" width="45.3" height="7"/><rect x="766.7" y="-3.5" width="46" height="7"/><circle cx="32" r="5.3"/><circle cx="501.3" r="5.3"/><circle cx="522" r="5.3"/><circle cx="583.3" r="5.3"/><circle cx="644.7" r="5.3"/><circle cx="706" r="5.3"/><circle cx="766.7" r="5.3"/><circle cx="828" r="5.3"/><circle cx="847.3" r="5.3"/><circle cx="889.3" r="5.3"/><circle cx="908.7" r="5.3"/><circle cx="930" r="5.3"/></g>
<g class="n y" transform="translate(0,30)"><rect x="256.7" y="-3.5" width="218.6" height="7"/><rect x="522" y="-3.5" width="45.3" height="7"/><rect x="583.3" y="-3.5" width="45.4" height="7"/><rect x="644.7" y="-3.5" width="45.3" height="7"/><circle cx="256.7" r="5.3"/><circle cx="501.3" r="5.3"/><circle cx="522" r="5.3"/><circle cx="583.3" r="5.3"/><circle cx="644.7" r="5.3"/><circle cx="706" r="5.3"/><circle cx="828" r="5.3"/><circle cx="889.3" r="5.3"/><circle cx="930" r="5.3"/><circle cx="991.3" r="5.3"/></g>
<g class="n b" transform="translate(0,45)"><rect x="154.7" y="-3.5" width="86" height="7"/><circle cx="154.7" r="5.3"/><circle cx="847.3" r="5.3"/><circle cx="908.7" r="5.3"/><circle cx="991.3" r="5.3"/></g>
<g class="n o" transform="translate(0,60.5)"><rect x="32" y="-3.5" width="106.7" height="7"/><circle cx="32" r="5.3"/></g>
<rect class="pk" x="32" width="12" height="60.5"/><rect class="od" x="44" width="968" height="60.5"/>
</g>

<g id="m101-104" transform="translate(0,3730.3)">
<use href="#st4"/>
<g class="s m" transform="translate(0,-7)"><text x="32">101</text><text x="277">102</text><text x="522">103</text><text x="767">104</text></g>
<g class="s a" transform="translate(0,77)"><text x="277">146</text><text x="522">96</text><text x="767">25</text><text x="1012">218</text></g>
<g class="s c" transform="translate(0,90.5)"><text x="277">94217</text><text x="522">94601</text><text x="767">94701</text><text x="1012">95573</text></g>
<g class="s p" transform="translate(0,103)"><text x="277">0.00%</text><text x="522">0.00%</text><text x="767">0.00%</text><text x="1012">0.00%</text></g>
<g class="n y" transform="translate(0,30)"><rect x="32" y="-3.5" width="490" height="7"/><rect x="950.7" y="-3.5" width="45.3" height="7"/><circle cx="32" r="5.3"/><circle cx="746.7" r="5.3"/><circle cx="950.7" r="5.3"/></g>
<g class="n b" transform="translate(0,45)"><rect x="889.3" y="-3.5" width="46" height="7"/><circle cx="766.7" r="5.3"/><circle cx="808" r="5.3"/><circle cx="847.3" r="5.3"/><circle cx="889.3" r="5.3"/></g>
<g class="n o" transform="translate(0,60.5)"><rect x="32" y="-3.5" width="490" height="7"/><circle cx="32" r="5.3"/><circle cx="786.7" r="5.3"/><circle cx="828" r="5.3"/><circle cx="868.7" r="5.3"/></g>
<rect class="od" x="32" width="12" height="60.5"/>
</g>

<g id="m105-108" transform="translate(0,3871.3)">
<use href="#st4"/>
<g class="s m" transform="translate(0,-7)"><text x="32">105</text><text x="277">106</text><text x="522">107</text><text x="767">108</text></g>
<g class="s a" transform="translate(0,77)"><text x="277">115</text><text x="522">150</text><text x="767">44</text><text x="1012">70</text></g>
<g class="s c" transform="translate(0,90.5)"><text x="277">96033</text><text x="522">96633</text><text x="767">96809</text><text x="1012">97089</text></g>
<g class="s p" transform="translate(0,103)"><text x="277">0.00%</text><text x="522">0.00%</text><text x="767">0.00%</text><text x="1012">0.00%</text></g>
<g class="n g"><rect class="gb" x="766.7" y="-3.5" width="229.3" height="7"/><circle cx="766.7" r="5.3"/></g>
<g class="n r" transform="translate(0,15)"><rect x="501.3" y="-3.5" width="244.7" height="7"/><circle cx="501.3" r="5.3"/></g>
<g class="n y" transform="translate(0,30)"><rect x="154.7" y="-3.5" width="106" height="7"/><circle cx="154.7" r="5.3"/><circle cx="399.3" r="5.3"/><circle cx="460.7" r="5.3"/></g>
<g class="n b" transform="translate(0,45)"><rect x="276.7" y="-3.5" width="107.3" height="7"/><circle cx="32" r="5.3"/><circle cx="276.7" r="5.3"/><circle cx="440" r="5.3"/></g>
<g class="n o" transform="translate(0,60.5)"><rect x="51.3" y="-3.5" width="96.7" height="7"/><circle cx="51.3" r="5.3"/></g>
</g>

<g id="m109-112" transform="translate(0,4012.3)">
<use href="#st4"/>
<g class="s m" transform="translate(0,-7)"><text x="32">109</text><text x="277">110</text><text x="522">111</text><text x="767">112</text></g>
<g class="s a" transform="translate(0,77)"><text x="277">140</text><text x="522">176</text><text x="767">223</text><text x="1012">243</text></g>
<g class="s c" transform="translate(0,90.5)"><text x="277">97649</text><text x="522">98353</text><text x="767">99245</text><text x="1012">100217</text></g>
<g class="s p" transform="translate(0,103)"><text x="277">0.00%</text><text x="522">0.00%</text><text x="767">0.00%</text><text x="1012">0.00%</text></g>
<g class="n g"><rect class="gb" x="644.7" y="-3.5" width="60.6" height="7"/><circle cx="440" r="5.3"/><circle cx="624" r="5.3"/><circle cx="644.7" r="5.3"/></g>
<g class="n r" transform="translate(0,15)"><rect x="32" y="-3.5" width="228.7" height="7"/><rect x="889.3" y="-3.5" width="46" height="7"/><circle cx="32" r="5.3"/><circle cx="746.7" r="5.3"/><circle cx="808" r="5.3"/><circle cx="868.7" r="5.3"/><circle cx="889.3" r="5.3"/><circle cx="950.7" r="5.3"/></g>
<g class="n y" transform="translate(0,30)"><rect x="276.7" y="-3.5" width="107.3" height="7"/><rect x="460.7" y="-3.5" width="45.3" height="7"/><rect x="522" y="-3.5" width="60.7" height="7"/><rect x="644.7" y="-3.5" width="60.6" height="7"/><rect x="889.3" y="-3.5" width="46" height="7"/><circle cx="276.7" r="5.3"/><circle cx="460.7" r="5.3"/><circle cx="522" r="5.3"/><circle cx="644.7" r="5.3"/><circle cx="868.7" r="5.3"/><circle cx="889.3" r="5.3"/><circle cx="950.7" r="5.3"/><circle cx="991.3" r="5.3"/></g>
<g class="n b" transform="translate(0,45)"><rect x="32" y="-3.5" width="228.7" height="7"/><rect x="276.7" y="-3.5" width="107.3" height="7"/><circle cx="32" r="5.3"/><circle cx="276.7" r="5.3"/><circle cx="746.7" r="5.3"/><circle cx="808" r="5.3"/></g>
<g class="n o" transform="translate(0,60.5)"><rect x="522" y="-3.5" width="60.7" height="7"/><circle cx="399.3" r="5.3"/><circle cx="522" r="5.3"/></g>
</g>

<g id="m113-116" transform="translate(0,4153.3)">
<use href="#st4"/>
<g class="s m" transform="translate(0,-7)"><text x="32">113</text><text x="277">114</text><text x="522">115</text><text x="767">116</text></g>
<g class="s a" transform="translate(0,77)"><text x="277">167</text><text x="522">45</text><text x="767">73</text><text x="1012">18</text></g>
<g class="s c" transform="translate(0,90.5)"><text x="277">100885</text><text x="522">101065</text><text x="767">101357</text><text x="1012">101429</text></g>
<g class="s p" transform="translate(0,103)"><text x="277">0.00%</text><text x="522">0.00%</text><text x="767">0.00%</text><text x="1012">0.00%</text></g>
<g class="n r" transform="translate(0,15)"><circle cx="134" r="5.3"/></g>
<g class="n y" transform="translate(0,30)"><rect x="32" y="-3.5" width="45.3" height="7"/><circle cx="32" r="5.3"/></g>
<g class="n b" transform="translate(0,45)"><rect x="154.7" y="-3.5" width="351.3" height="7"/><circle cx="93.3" r="5.3"/><circle cx="154.7" r="5.3"/></g>
<g class="n o" transform="translate(0,60.5)"><rect x="32" y="-3.5" width="45.3" height="7"/><rect x="522" y="-3.5" width="336.7" height="7"/><circle cx="32" r="5.3"/><circle cx="522" r="5.3"/></g>
</g>

<g id="m117-119" transform="translate(0,4294.3)">
<use href="#st3"/>
<g class="s m" transform="translate(0,-7)"><text x="32">117</text><text x="277">118</text><text x="522">119</text></g>
<g class="s a" transform="translate(0,77)"><text x="277">168</text><text x="522">233</text><text x="767">0</text></g>
<g class="s c" transform="translate(0,90.5)"><text x="277">102101</text><text x="522">103033</text><text x="767">103033</text></g>
<g class="s p" transform="translate(0,103)"><text x="277">0.00%</text><text x="522">0.00%</text><text x="767">0.00%</text></g>
<g class="n g"><rect class="gb" x="32" y="-3.5" width="45.3" height="7"/><circle cx="32" r="5.3"/><circle cx="134" r="5.3"/><circle cx="256.7" r="5.3"/><circle cx="378.7" r="5.3"/></g>
<g class="n r" transform="translate(0,15)"><rect x="154.7" y="-3.5" width="44.6" height="7"/><rect x="276.7" y="-3.5" width="45.3" height="7"/><circle cx="154.7" r="5.3"/><circle cx="276.7" r="5.3"/><circle cx="399.3" r="5.3"/></g>
<g class="n y" transform="translate(0,30)"><rect x="460.7" y="-3.5" width="61.3" height="7"/><circle cx="440" r="5.3"/><circle cx="460.7" r="5.3"/></g>
<g class="n b" transform="translate(0,45)"><circle cx="93.3" r="5.3"/><circle cx="215.3" r="5.3"/><circle cx="338" r="5.3"/></g>
<g class="n o" transform="translate(0,60.5)"><rect x="460.7" y="-3.5" width="61.3" height="7"/><circle cx="440" r="5.3"/><circle cx="460.7" r="5.3"/></g>
</g>
</g>
</svg>
